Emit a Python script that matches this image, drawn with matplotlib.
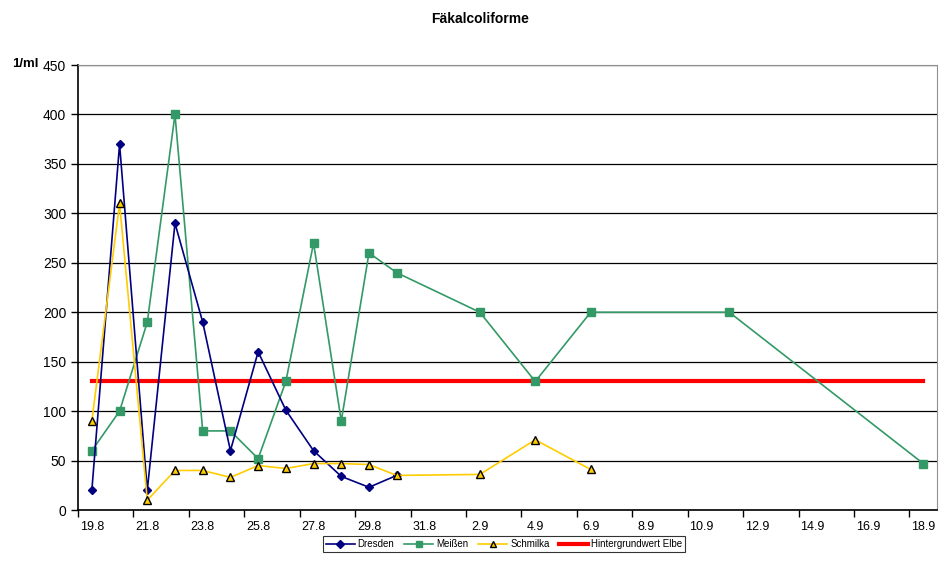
import matplotlib.pyplot as plt
import numpy as np

plt.rcParams['font.family'] = ['Liberation Sans', 'DejaVu Sans']

# category labels: one per day from 19.8 to 18.9
dates = ['19.8', '20.8', '21.8', '22.8', '23.8', '24.8', '25.8', '26.8', '27.8',
         '28.8', '29.8', '30.8', '31.8', '1.9', '2.9', '3.9', '4.9', '5.9', '6.9',
         '7.9', '8.9', '9.9', '10.9', '11.9', '12.9', '13.9', '14.9', '15.9',
         '16.9', '17.9', '18.9']

dresden_days = ['19.8', '20.8', '21.8', '22.8', '23.8', '24.8', '25.8', '26.8',
                '27.8', '28.8', '29.8', '30.8']
dresden = [20, 370, 20, 290, 190, 60, 160, 101, 60, 34, 23, 35]

meissen_days = ['19.8', '20.8', '21.8', '22.8', '23.8', '24.8', '25.8', '26.8',
                '27.8', '28.8', '29.8', '30.8', '2.9', '4.9', '6.9', '11.9', '18.9']
meissen = [60, 100, 190, 400, 80, 80, 52, 130, 270, 90, 260, 240, 200, 130, 200,
           200, 47]

schmilka_days = ['19.8', '20.8', '21.8', '22.8', '23.8', '24.8', '25.8', '26.8',
                 '27.8', '28.8', '29.8', '30.8', '2.9', '4.9', '6.9']
schmilka = [90, 310, 10, 40, 40, 33, 45, 42, 47, 47, 46, 35, 36, 71, 41]

hintergrund_days = ['19.8', '18.9']
hintergrund = [130, 130]

pos = {d: i for i, d in enumerate(dates)}


def xs(days):
    return [pos[d] for d in days]


fig = plt.figure(figsize=(9.42, 5.64), dpi=100)
ax = fig.add_axes([0.0828, 0.0957, 0.912, 0.789])

ax.plot(xs(dresden_days), dresden, color='#000080', lw=1.2, marker='D',
        ms=4.5, label='Dresden', zorder=4)
ax.plot(xs(meissen_days), meissen, color='#339966', lw=1.2, marker='s',
        ms=6, label='Meißen', zorder=3)
ax.plot(xs(schmilka_days), schmilka, color='#FFCC00', lw=1.2, marker='^',
        ms=6, mfc='#FFCC00', mec='black', mew=1, label='Schmilka', zorder=5)
ax.plot(xs(hintergrund_days), hintergrund, color='#FF0000', lw=3,
        label='Hintergrundwert Elbe', zorder=2)

ax.set_xlim(-0.5, len(dates) - 0.5)
ax.set_ylim(0, 450)
ax.set_yticks(np.arange(0, 451, 50))
ax.yaxis.grid(True, color='black', lw=0.9)
ax.set_axisbelow(True)

# tick marks between categories, labels centred on categories
ax.set_xticks(np.arange(-0.5, len(dates), 2))
ax.set_xticklabels([])
ax.set_xticks(np.arange(0, len(dates), 2), minor=True)
ax.set_xticklabels(dates[::2], minor=True)
ax.tick_params(axis='x', which='major', length=5, width=1, direction='out')
ax.tick_params(axis='x', which='minor', length=0, pad=8, labelsize=9)
ax.tick_params(axis='y', length=5, width=1, labelsize=10)

for s in ['left', 'bottom']:
    ax.spines[s].set_linewidth(1.2)
for s in ['top', 'right']:
    ax.spines[s].set_color('#909090')

fig.text(0.51, 0.966, 'Fäkalcoliforme', ha='center', va='center',
         fontsize=10, fontweight='bold')
fig.text(0.027, 0.886, '1/ml', ha='center', va='center', fontsize=9.5,
         fontweight='bold')

leg = fig.legend(loc='center', bbox_to_anchor=(0.535, 0.035),
                 ncol=4, fontsize=7, frameon=True, fancybox=False,
                 edgecolor='black', handlelength=3.0, handletextpad=0.3,
                 columnspacing=1.0, borderpad=0.3, markerscale=0.8)
leg.get_frame().set_linewidth(0.8)

fig.savefig('out.png', dpi=100)
